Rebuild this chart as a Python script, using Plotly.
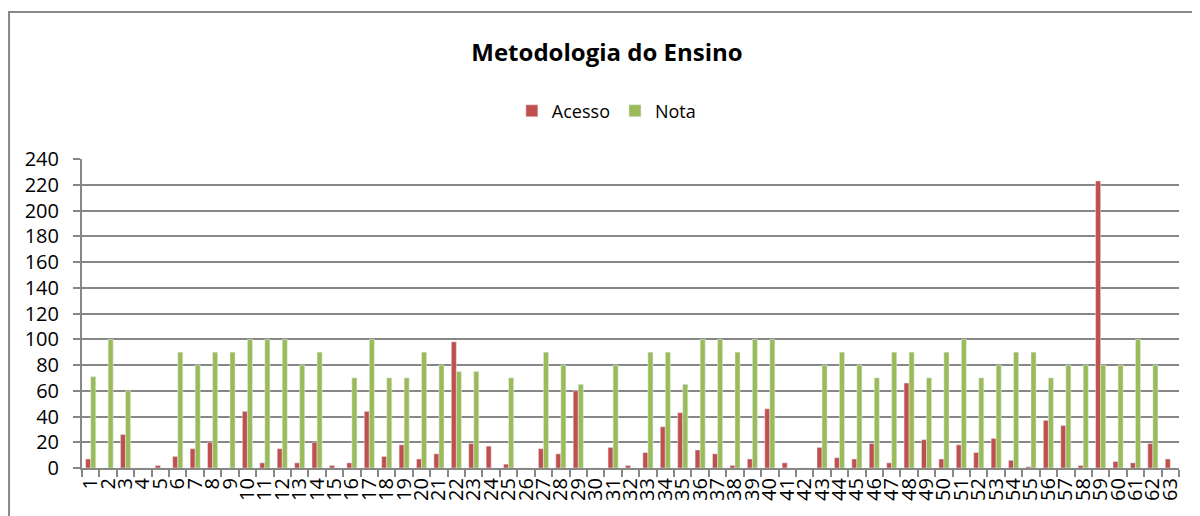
import plotly.graph_objects as go

categories = [str(i) for i in range(1, 64)]

acesso = [7, 0, 26, 0, 2, 9, 15, 20, 0, 44,
          4, 15, 4, 20, 2, 4, 44, 9, 18, 7,
          11, 98, 19, 17, 3, 0, 15, 11, 60, 0,
          16, 2, 12, 32, 43, 14, 11, 2, 7, 46,
          4, 0, 16, 8, 7, 19, 4, 66, 22, 7,
          18, 12, 23, 6, 1, 37, 33, 2, 223, 5,
          4, 19, 7]

nota = [71, 100, 60, 0, 0, 90, 80, 90, 90, 100,
        100, 100, 80, 90, 0, 70, 100, 70, 70, 90,
        80, 75, 75, 0, 70, 0, 90, 80, 65, 0,
        80, 0, 90, 90, 65, 100, 100, 90, 100, 100,
        0, 0, 80, 90, 80, 70, 90, 90, 70, 90,
        100, 70, 80, 90, 90, 70, 80, 80, 80, 80,
        100, 80, 0]

y_ticks = list(range(0, 241, 20))

fig = go.Figure()
fig.add_trace(go.Bar(x=categories, y=acesso, name="Acesso", marker=dict(color="#C0504D")))
fig.add_trace(go.Bar(x=categories, y=nota, name="Nota", marker=dict(color="#9BBB59")))

axis_grey = "#878787"

# page body has an 8px margin, so the figure is a bit smaller and shifted
fig.update_layout(
    width=1192,
    height=508,
    margin=dict(l=74, r=21, t=151, b=48),
    plot_bgcolor="white",
    paper_bgcolor="white",
    font=dict(family="Open Sans", color="black", size=18),
    barmode="group",
    bargap=0.42,
    bargroupgap=0,
    title=dict(
        text="<b>Metodologia do Ensino</b>",
        x=0.5025,
        xref="container",
        xanchor="center",
        y=0.913,
        yref="container",
        yanchor="middle",
        font=dict(size=24, family="Open Sans"),
    ),
    legend=dict(
        orientation="h",
        x=0.478,
        xanchor="center",
        y=1.155,
        yanchor="middle",
        font=dict(size=18),
        itemwidth=30,
        traceorder="normal",
    ),
    xaxis=dict(
        type="category",
        tickangle=-90,
        dtick=1,
        tickson="boundaries",
        ticks="outside",
        ticklen=7,
        tickcolor=axis_grey,
        tickwidth=2,
        showline=True,
        linecolor=axis_grey,
        linewidth=2,
        showgrid=False,
        automargin=False,
        tickfont=dict(size=20),
    ),
    yaxis=dict(
        range=[0, 240],
        tickvals=y_ticks,
        ticks="outside",
        ticklen=7,
        tickcolor=axis_grey,
        tickwidth=2,
        showline=True,
        linecolor=axis_grey,
        linewidth=2,
        showgrid=True,
        gridcolor=axis_grey,
        gridwidth=1.5,
        zeroline=False,
        automargin=False,
        ticklabelstandoff=10,
        tickfont=dict(size=20),
    ),
    shapes=[
        dict(
            type="rect",
            xref="paper",
            yref="paper",
            x0=-0.0665,
            x1=1.05,
            y0=-0.3,
            y1=1.4757,
            line=dict(color=axis_grey, width=2),
            layer="below",
        )
    ],
)

fig.write_html("out.html")
